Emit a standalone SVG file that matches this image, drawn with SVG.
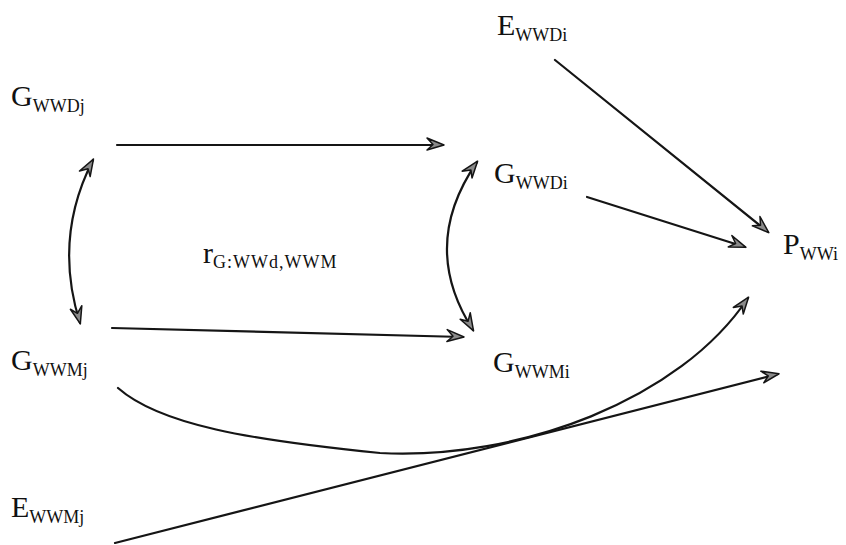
<svg xmlns="http://www.w3.org/2000/svg" width="846" height="545" viewBox="0 0 846 545">
<style>
.m{font-family:"Liberation Serif","Times New Roman",serif;font-size:30px;fill:#111}
.s{font-family:"Liberation Serif","Times New Roman",serif;font-size:18px;fill:#111}
.c{fill:none;stroke:#151515;stroke-width:2.2;stroke-linecap:round}
</style>
<defs>
<marker id="ah" viewBox="-18 -9 22 18" refX="0" refY="0" markerWidth="22" markerHeight="18" markerUnits="userSpaceOnUse" orient="auto-start-reverse">
<path d="M1,0 L-16,-7 L-10,-0.5 L-16,5 Z" fill="#8a8a8a" stroke="#151515" stroke-width="1.5" stroke-linejoin="round"/>
</marker>
</defs>
<rect width="846" height="545" fill="#fff"/>
<g id="E_WWDi"><text class="m" x="497" y="35">E<tspan class="s" dy="6">WWDi</tspan></text></g>
<g id="G_WWDj"><text class="m" x="11" y="106">G<tspan class="s" dy="6">WWDj</tspan></text></g>
<g id="G_WWDi"><text class="m" x="494" y="183">G<tspan class="s" dy="6">WWDi</tspan></text></g>
<g id="P_WWi"><text class="m" x="783" y="254">P<tspan class="s" dy="6">WWi</tspan></text></g>
<g id="r_label"><text class="m" x="203" y="263">r<tspan class="s" dy="5" letter-spacing="1">G:WWd,WWM</tspan></text></g>
<g id="G_WWMj"><text class="m" x="11" y="370">G<tspan class="s" dy="6">WWMj</tspan></text></g>
<g id="G_WWMi"><text class="m" x="493" y="372">G<tspan class="s" dy="6">WWMi</tspan></text></g>
<g id="E_WWMj"><text class="m" x="11" y="517">E<tspan class="s" dy="6">WWMj</tspan></text></g>
<g id="connectors">
<path class="c" d="M117,145 L443,145" marker-end="url(#ah)"/>
<path class="c" d="M93,160 Q53,238 80,323" marker-start="url(#ah)" marker-end="url(#ah)"/>
<path class="c" d="M477,162 Q419,246 473,330" marker-start="url(#ah)" marker-end="url(#ah)"/>
<path class="c" d="M112,328 L463,337" marker-end="url(#ah)"/>
<path class="c" d="M555,60 L768,232" marker-end="url(#ah)"/>
<path class="c" d="M587,197 L745,247" marker-end="url(#ah)"/>
<path class="c" d="M118,388 C160,425 250,440 380,453 C520,460 680,400 748,298" marker-end="url(#ah)"/>
<path class="c" d="M115,543 L778,374" marker-end="url(#ah)"/>
</g>
</svg>
